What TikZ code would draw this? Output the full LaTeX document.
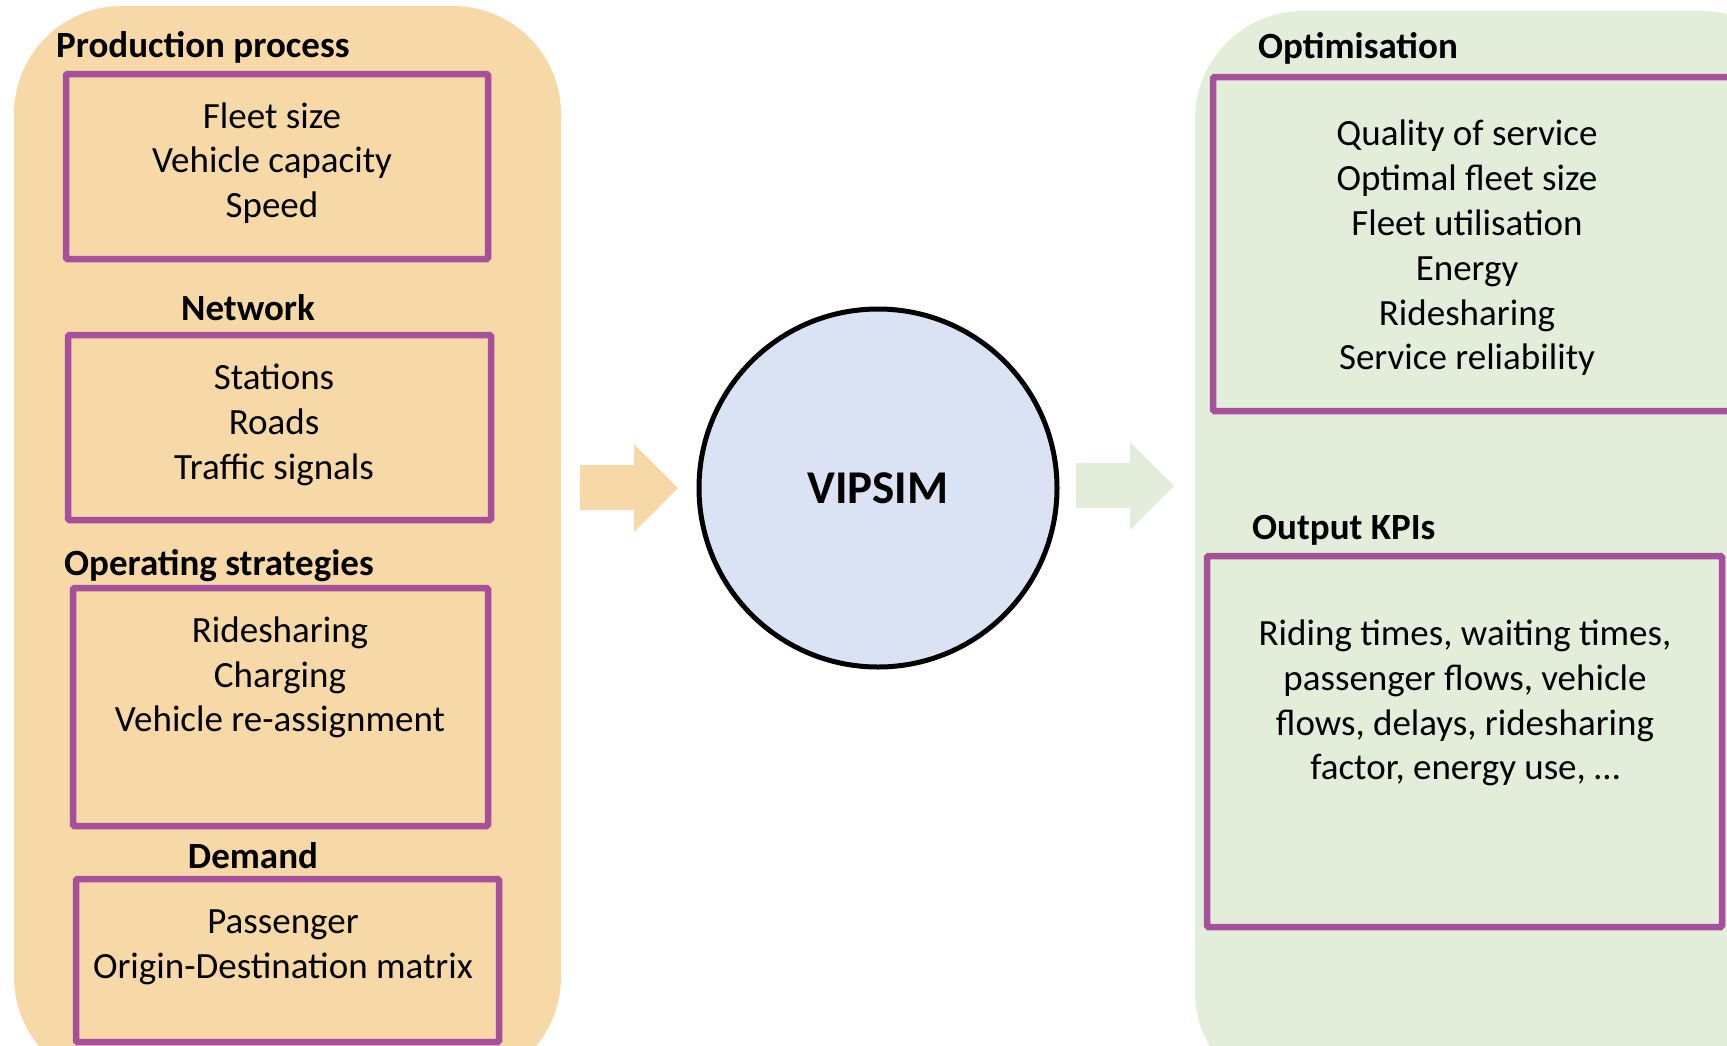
\documentclass[tikz,border=0pt]{standalone}
\usepackage{fontspec}
\setmainfont{Carlito}
\definecolor{orangefill}{HTML}{F6D9A7}
\definecolor{greenfill}{HTML}{E2EEDA}
\definecolor{bluefill}{HTML}{DAE3F3}
\definecolor{purpleline}{HTML}{A64F9B}
\tikzset{
  panel/.style={rounded corners=108pt, draw=none},
  pbox/.style={draw=purpleline, line width=6.5pt, rounded corners=1.5pt, inner sep=0pt},
  txt/.style={align=center, inner sep=0pt, font=\fontsize{37}{44.8}\selectfont},
  head/.style={inner sep=0pt, font=\fontsize{37}{44.8}\selectfont\bfseries},
}
\begin{document}
\begin{tikzpicture}[x=1pt, y=-1pt]
\useasboundingbox (0,0) rectangle (1727,1045);
\clip (0,0) rectangle (1727,1045);
% panels
\fill[panel, orangefill] (14,6) rectangle (561,1085);
\fill[panel, greenfill] (1195,11) rectangle (1810,1100);
% left side
\node[head, anchor=west] (hprod) at (56,47.5) {Production process};
\node[pbox, minimum width=422pt, minimum height=185pt] (b1) at (277,166.5) {};
\node[txt] (t1) at (272,163) {Fleet size\\Vehicle capacity\\Speed};
\node[head] (hnet) at (248,308) {Network};
\node[pbox, minimum width=423pt, minimum height=185pt] (b2) at (279.5,427.5) {};
\node[txt] (t2) at (274,425) {Stations\\Roads\\Traffic signals};
\node[head, anchor=west] (hops) at (64,566) {Operating strategies};
\node[pbox, minimum width=415pt, minimum height=238pt] (b3) at (280.5,707) {};
\node[txt] (t3) at (280,677.5) {Ridesharing\\Charging\\Vehicle re-assignment};
\node[head] (hdem) at (253,856) {Demand};
\node[pbox, minimum width=423pt, minimum height=163pt] (b4) at (287.5,960.5) {};
\node[txt] (t4) at (283,947.5) {Passenger\\Origin-Destination matrix};
% arrows
\fill[orangefill] (580,465) -- (634,465) -- (634,444) -- (678,488) -- (634,532) -- (634,510) -- (580,510) -- cycle;
\fill[greenfill] (1076,463) -- (1130,463) -- (1130,442) -- (1174,486) -- (1130,530) -- (1130,508) -- (1076,508) -- cycle;
% circle
\node[circle, draw=black, line width=5pt, fill=bluefill, minimum size=358pt, inner sep=0pt,
      font=\fontsize{47}{56}\selectfont\bfseries] (vip) at (878,488) {VIPSIM};
% right side
\node[head, anchor=west] (hopt) at (1258,48.5) {Optimisation};
\node[pbox, minimum width=560pt, minimum height=334pt] (b5) at (1493,244) {};
\node[txt] (t5) at (1467,248) {Quality of service\\Optimal fleet size\\Fleet utilisation\\Energy\\Ridesharing\\Service reliability};
\node[head, anchor=west] (hkpi) at (1252,530.5) {Output KPIs};
\node[pbox, minimum width=515pt, minimum height=371pt] (b6) at (1464.5,741.5) {};
\node[txt] (t6) at (1465,703) {Riding times, waiting times,\\passenger flows, vehicle\\flows, delays, ridesharing\\factor, energy use, …};
\end{tikzpicture}
\end{document}
